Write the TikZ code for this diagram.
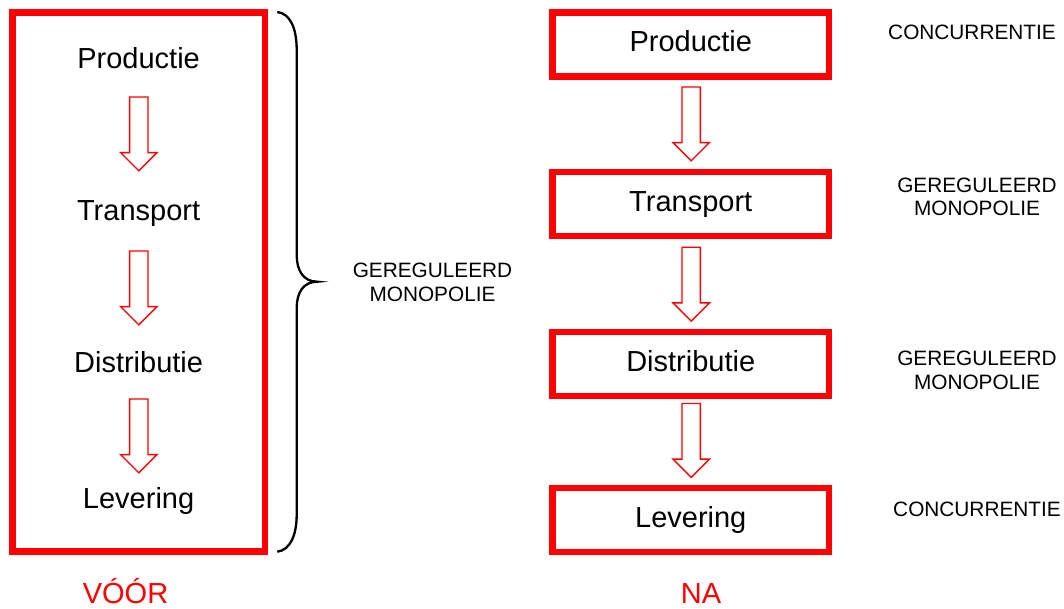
\documentclass[tikz,border=0pt]{standalone}
\usepackage{fontspec}
\setmainfont{Liberation Sans}
\begin{document}
\begin{tikzpicture}[x=1pt,y=-1pt,
  bigtxt/.style={font=\fontsize{29}{34}\selectfont, inner sep=0pt},
  lbl/.style={font=\fontsize{20.8}{23.8}\selectfont, inner sep=0pt, align=center, anchor=base},
  stage/.style={draw=red, line width=6.3pt, minimum width=276.5pt, minimum height=64pt,
     inner sep=0pt, text height=21pt, text depth=6pt, font=\fontsize{29}{34}\selectfont},
  barrow/.style={draw=red, line width=1.4pt, line join=miter},
  bracestyle/.style={draw=black, line width=2.3pt},
  title/.style={font=\fontsize{29}{34}\selectfont, text=red, inner sep=0pt, text depth=0pt, anchor=base}]
\useasboundingbox (0,0) rectangle (1064,609);

% ---------- VOOR ----------
\draw[red, line width=6.3pt] (12.5,12.5) rectangle (264.7,551.5);
\node[bigtxt, anchor=base] (lp) at (138.6,69) {Productie};
\node[bigtxt, anchor=base] (lt) at (138.6,221) {Transport};
\node[bigtxt, anchor=base] (ld) at (138.6,372) {Distributie};
\node[bigtxt, anchor=base] (ll) at (138.6,508) {Levering};

\coordinate (la1) at (138.8,97);
\coordinate (la2) at (138.8,251);
\coordinate (la3) at (138.8,399);
\foreach \c in {la1,la2,la3}{
  \draw[barrow] (\c) ++(-9.2,0) -- ++(18.4,0) -- ++(0,55.6) -- ++(9,0) -- ++(-18.2,18.2)
     -- ++(-18.2,-18.2) -- ++(9,0) -- cycle;
}

\node[title] (voor) at (125.5,603.5) {VÓÓR};

% brace
\draw[bracestyle] (277.3,12) .. controls (290,13.5) and (296.7,28) .. (296.7,50)
  -- (296.7,255) .. controls (296.7,270) and (303,281.7) .. (317.3,281.7)
  .. controls (303,281.7) and (296.7,293) .. (296.7,308)
  -- (296.7,514) .. controls (296.7,536) and (290,550) .. (277.3,551.7);
\node[lbl] (mid) at (432.5,301.7) {GEREGULEERD\\MONOPOLIE};

% ---------- NA ----------
\node[stage] (rp) at (690.75,44.4) {Productie};
\node[stage] (rt) at (690.75,203.8) {Transport};
\node[stage] (rd) at (690.75,363.8) {Distributie};
\node[stage] (rl) at (690.75,519.8) {Levering};

\coordinate (ra1) at (691.2,87);
\coordinate (ra2) at (691.2,247.3);
\coordinate (ra3) at (691.2,403.5);
\foreach \c in {ra1,ra2,ra3}{
  \draw[barrow] (\c) ++(-9.2,0) -- ++(18.4,0) -- ++(0,55.6) -- ++(9,0) -- ++(-18.2,18.2)
     -- ++(-18.2,-18.2) -- ++(9,0) -- cycle;
}

\node[title] (na) at (701,603.5) {NA};

\node[lbl] (c1) at (972,40) {CONCURRENTIE};
\node[lbl] (g1) at (977,216) {GEREGULEERD\\MONOPOLIE};
\node[lbl] (g2) at (977,389) {GEREGULEERD\\MONOPOLIE};
\node[lbl] (c2) at (977,516) {CONCURRENTIE};
\end{tikzpicture}
\end{document}
